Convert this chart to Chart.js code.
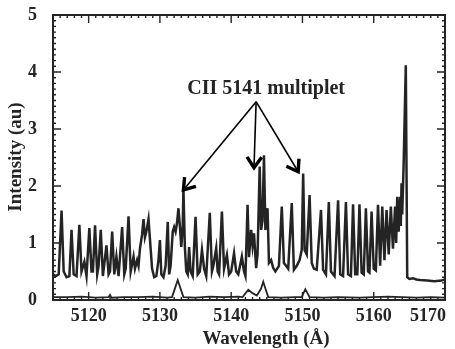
<!DOCTYPE html>
<html>
<head>
<meta charset="utf-8">
<script src="https://cdn.jsdelivr.net/npm/chart.js@4.4.1/dist/chart.umd.min.js"></script>
<style>
  html, body { margin: 0; padding: 0; background: #fff; }
</style>
</head>
<body>
<canvas id="spectrum" width="455" height="349"></canvas>
<script>
// espectro medido (curva superior)
var wavelength = [
  5115.0, 5115.4, 5115.8, 5116.2, 5116.5, 5116.9, 5117.3, 5117.6, 5117.9, 5118.3,
  5118.7, 5119.0, 5119.4, 5119.7, 5120.1, 5120.4, 5120.6, 5120.9, 5121.2, 5121.4,
  5121.7, 5122.0, 5122.5, 5122.8, 5123.0, 5123.3, 5123.6, 5123.9, 5124.2, 5124.7,
  5125.0, 5125.2, 5125.6, 5125.9, 5126.3, 5126.5, 5126.8, 5127.0, 5127.2, 5127.5,
  5127.7, 5127.9, 5128.1, 5128.4, 5128.7, 5128.9, 5129.2, 5129.5, 5129.8, 5130.0,
  5130.2, 5130.5, 5130.8, 5131.1, 5131.3, 5131.5, 5131.8, 5132.0, 5132.2, 5132.4,
  5132.6, 5132.8, 5133.0, 5133.2, 5133.3, 5133.5, 5133.7, 5133.9, 5134.1, 5134.3,
  5134.6, 5135.0, 5135.3, 5135.6, 5135.9, 5136.2, 5136.5, 5137.0, 5137.3, 5137.5,
  5137.9, 5138.1, 5138.3, 5138.7, 5139.0, 5139.4, 5139.7, 5140.0, 5140.4, 5140.7,
  5141.0, 5141.5, 5141.8, 5142.0, 5142.3, 5142.5, 5142.8, 5143.0, 5143.2, 5143.5,
  5143.7, 5144.0, 5144.2, 5144.4, 5144.6, 5144.8, 5145.1, 5145.3, 5145.6, 5145.9,
  5146.2, 5146.7, 5147.1, 5147.4, 5147.7, 5148.0, 5148.5, 5148.8, 5149.2, 5149.6,
  5149.9, 5150.1, 5150.3, 5150.6, 5151.0, 5151.3, 5151.6, 5152.0, 5152.6, 5152.9,
  5153.3, 5153.7, 5154.0, 5154.5, 5155.0, 5155.3, 5155.7, 5156.1, 5156.4, 5156.8,
  5157.1, 5157.4, 5157.7, 5158.0, 5158.3, 5158.6, 5158.9, 5159.2, 5159.4, 5159.7,
  5160.0, 5160.3, 5160.6, 5160.9, 5161.2, 5161.5, 5161.8, 5162.1, 5162.4, 5162.7,
  5163.0, 5163.15, 5163.3, 5163.5, 5163.7, 5163.8, 5163.9, 5164.0, 5164.2, 5164.5,
  5164.7, 5165.0, 5165.5, 5166.0, 5166.5, 5167.5, 5168.5, 5169.5, 5170.0
];
var intensity = [
  0.45, 0.42, 0.45, 1.57, 0.50, 0.40, 0.42, 1.23, 0.45, 0.42,
  1.32, 0.50, 0.67, 0.42, 1.26, 0.50, 0.50, 1.31, 0.45, 0.60,
  1.23, 0.42, 0.96, 0.45, 0.50, 1.20, 0.45, 0.76, 0.42, 1.28,
  0.45, 0.55, 1.47, 0.50, 0.76, 0.55, 0.70, 0.60, 0.90, 1.15,
  1.42, 1.10, 1.20, 1.42, 0.90, 0.55, 0.40, 0.42, 0.70, 1.05,
  0.45, 0.40, 0.60, 1.37, 0.45, 0.60, 1.20, 1.28, 1.20, 1.35,
  1.61, 1.30, 0.93, 1.30, 1.96, 0.93, 0.50, 0.45, 0.93, 0.50,
  0.42, 1.46, 0.45, 0.50, 0.88, 0.55, 0.42, 1.53, 0.50, 0.60,
  0.91, 0.50, 0.45, 1.55, 0.55, 0.79, 0.45, 0.50, 0.82, 0.50,
  0.45, 0.76, 0.50, 0.42, 1.67, 0.75, 1.23, 0.95, 1.17, 0.56,
  0.80, 2.34, 1.23, 1.40, 2.54, 1.23, 1.61, 0.65, 0.70, 0.56,
  0.50, 0.60, 1.64, 0.65, 0.60, 0.55, 1.70, 0.53, 0.60, 0.70,
  0.88, 2.22, 0.88, 0.80, 1.84, 0.65, 0.55, 0.53, 1.58, 0.53,
  0.45, 1.72, 0.50, 0.42, 1.75, 0.45, 0.42, 1.72, 0.45, 0.42,
  1.68, 0.45, 0.45, 1.68, 0.48, 0.45, 1.61, 0.50, 0.48, 1.55,
  0.55, 0.52, 1.67, 0.60, 1.64, 0.70, 1.58, 0.80, 1.64, 0.90,
  1.64, 1.00, 1.81, 1.20, 1.81, 1.30, 2.05, 1.50, 2.40, 4.12,
  0.40, 0.37, 0.38, 0.36, 0.35, 0.34, 0.33, 0.34, 0.36
];

// curva inferior (casi cero)
var lowerWavelength = [
  5115.0, 5117.0, 5119.0, 5121.0, 5122.8, 5123.0, 5123.2, 5125.0, 5127.0, 5129.0,
  5131.0, 5131.7, 5132.1, 5132.5, 5132.9, 5133.3, 5135.0, 5137.0, 5139.0, 5141.0,
  5141.6, 5142.4, 5143.0, 5143.6, 5144.2, 5144.5, 5144.8, 5145.2, 5147.0, 5149.0,
  5149.9, 5150.4, 5151.0, 5153.0, 5155.0, 5158.0, 5160.0, 5162.0, 5164.0, 5166.0,
  5168.0, 5170.0
];
var lowerIntensity = [
  0.05, 0.05, 0.06, 0.04, 0.05, 0.09, 0.04, 0.05, 0.05, 0.06,
  0.04, 0.05, 0.20, 0.35, 0.20, 0.05, 0.04, 0.06, 0.05, 0.06,
  0.05, 0.18, 0.12, 0.08, 0.20, 0.32, 0.20, 0.05, 0.04, 0.05,
  0.05, 0.19, 0.05, 0.04, 0.05, 0.04, 0.05, 0.06, 0.05, 0.04,
  0.05, 0.04
];

var xTickValues = [5120, 5130, 5140, 5150, 5160, 5170];
var yTickValues = [0, 1, 2, 3, 4, 5];

// anotacion del multiplete
var multipletLabel = 'CII 5141 multiplet';
var arrowTipX = [5133.3, 5143.2, 5149.4];
var arrowTipY = [1.93, 2.32, 2.25];
var arrowFrom = [5143.5, 3.48];
var labelAt = [5144.9, 3.70];

var serif = '"Liberation Serif", "Times New Roman", serif';
var ink = '#242424';

function toPoints(xs, ys) {
  return xs.map(function (v, i) { return { x: v, y: ys[i] }; });
}

function drawArrow(ctx, x0, y0, x1, y1) {
  var ang = Math.atan2(y1 - y0, x1 - x0);
  ctx.lineWidth = 1.6;
  ctx.beginPath();
  ctx.moveTo(x0, y0);
  ctx.lineTo(x1, y1);
  ctx.stroke();
  ctx.lineWidth = 3.4;
  ctx.beginPath();
  ctx.moveTo(x1 - 13 * Math.cos(ang - 0.6), y1 - 13 * Math.sin(ang - 0.6));
  ctx.lineTo(x1, y1);
  ctx.lineTo(x1 - 13 * Math.cos(ang + 0.6), y1 - 13 * Math.sin(ang + 0.6));
  ctx.stroke();
}

// marco, ticks hacia dentro, etiquetas, titulos y flechas
var framePlugin = {
  id: 'framePlugin',
  afterDraw: function (chart) {
    var ctx = chart.ctx, a = chart.chartArea;
    var x = chart.scales.x, y = chart.scales.y;
    ctx.save();
    ctx.strokeStyle = ink;
    ctx.lineWidth = 2;
    ctx.strokeRect(a.left, a.top, a.right - a.left, a.bottom - a.top);

    ctx.lineWidth = 1.4;
    ctx.beginPath();
    for (var v = 5115; v <= 5170; v++) {
      var px = x.getPixelForValue(v);
      var len = v % 10 === 0 ? 8 : 3;
      ctx.moveTo(px, a.bottom); ctx.lineTo(px, a.bottom - len);
      ctx.moveTo(px, a.top); ctx.lineTo(px, a.top + len);
    }
    for (var i = 0; i <= 50; i++) {
      var py = y.getPixelForValue(i / 10);
      var ylen = i % 10 === 0 ? 8 : 3;
      ctx.moveTo(a.left, py); ctx.lineTo(a.left + ylen, py);
      ctx.moveTo(a.right, py); ctx.lineTo(a.right - ylen, py);
    }
    ctx.stroke();

    ctx.fillStyle = ink;
    ctx.textBaseline = 'middle';

    // etiquetas del eje x (la ultima se recorta hacia dentro)
    ctx.font = 'bold 18px ' + serif;
    ctx.textAlign = 'center';
    xTickValues.forEach(function (t) {
      var s = String(t), w = ctx.measureText(s).width;
      var cx = Math.min(x.getPixelForValue(t), a.right + 1 - w / 2);
      ctx.fillText(s, cx, 316);
    });

    ctx.font = 'bold 19px ' + serif;
    ctx.fillText('Wavelength (\u00C5)', 266, 339);
    ctx.save();
    ctx.translate(16, 157);
    ctx.rotate(-Math.PI / 2);
    ctx.fillText('Intensity (au)', 0, 0);
    ctx.restore();

    ctx.font = 'bold 20px ' + serif;
    ctx.fillText(multipletLabel, x.getPixelForValue(labelAt[0]), y.getPixelForValue(labelAt[1]));
    var fx = x.getPixelForValue(arrowFrom[0]), fy = y.getPixelForValue(arrowFrom[1]);
    ctx.strokeStyle = '#000';
    for (var k = 0; k < arrowTipX.length; k++) {
      drawArrow(ctx, fx, fy, x.getPixelForValue(arrowTipX[k]), y.getPixelForValue(arrowTipY[k]));
    }
    ctx.restore();
  }
};

new Chart(document.getElementById('spectrum'), {
  type: 'line',
  data: {
    datasets: [{
      data: toPoints(wavelength, intensity),
      borderColor: ink,
      borderWidth: 2.5,
      pointRadius: 0,
      tension: 0
    }, {
      data: toPoints(lowerWavelength, lowerIntensity),
      borderColor: ink,
      borderWidth: 1.8,
      pointRadius: 0,
      tension: 0
    }]
  },
  options: {
    responsive: false,
    animation: false,
    devicePixelRatio: 1,
    layout: { padding: { left: 0, right: 10, top: 15, bottom: 0 } },
    plugins: { legend: { display: false }, tooltip: { enabled: false } },
    scales: {
      x: {
        type: 'linear',
        min: 5115,
        max: 5170,
        afterBuildTicks: function (s) { s.ticks = xTickValues.map(function (v) { return { value: v }; }); },
        afterFit: function (s) { s.height = 49; s.paddingLeft = 0; s.paddingRight = 0; },
        grid: { display: false },
        border: { display: false },
        ticks: { display: false }
      },
      y: {
        min: 0,
        max: 5,
        afterBuildTicks: function (s) { s.ticks = yTickValues.map(function (v) { return { value: v }; }); },
        afterFit: function (s) { s.width = 53; s.paddingTop = 0; s.paddingBottom = 0; },
        grid: { display: false },
        border: { display: false },
        ticks: {
          color: ink,
          padding: 8,
          font: { family: serif, size: 18, weight: 'bold' },
          callback: function (v) { return String(v); }
        }
      }
    }
  },
  plugins: [framePlugin]
});
</script>
</body>
</html>
